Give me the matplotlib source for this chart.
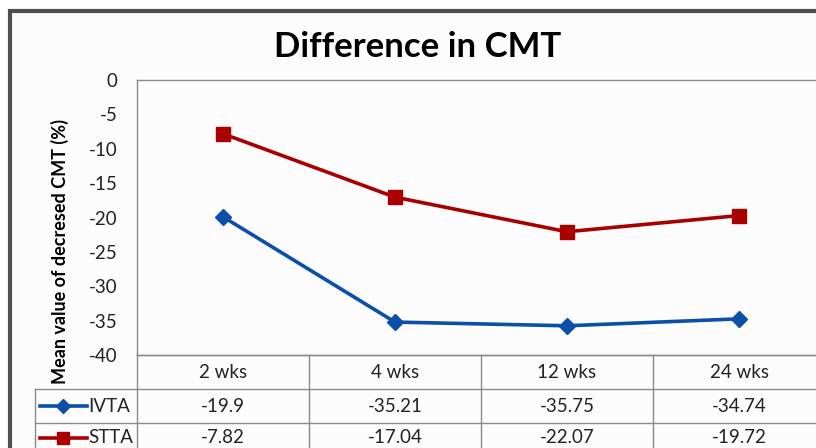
import matplotlib
matplotlib.use("Agg")
import matplotlib.pyplot as plt
import matplotlib.transforms as mtransforms
from matplotlib.patches import Rectangle
from matplotlib.lines import Line2D

# Daten
weeks = ['2 wks', '4 wks', '12 wks', '24 wks']
ivta = [-19.9, -35.21, -35.75, -34.74]
stta = [-7.82, -17.04, -22.07, -19.72]
series_names = ['IVTA', 'STTA']
y_ticks = [0, -5, -10, -15, -20, -25, -30, -35, -40]

blue = '#0b4fa8'
red = '#a80000'
grid_col = '#8a8a8a'
txt_col = '#222222'
fs = 13.5

plt.rcParams['font.family'] = ['Lato', 'DejaVu Sans']

W, H = 816, 448
fig = plt.figure(figsize=(W / 100, H / 100), dpi=100)
fig.patch.set_facecolor('white')

def fx(px):
    return px / W

def fy(py):
    return 1 - py / H

# Rahmen des Diagramms
fig.patches.append(Rectangle((fx(10), fy(H + 20)), fx(W + 20), fy(11) - fy(H + 20),
                             transform=fig.transFigure, facecolor='#fcfcfc',
                             edgecolor='#4f4f4f', linewidth=3, zorder=-5))

# Zeichenfläche
left, right, top, bottom = 137, 825, 80, 355
ax = fig.add_axes([fx(left), fy(bottom), fx(right - left), fy(top) - fy(bottom)])
ax.set_facecolor('none')
ax.set_zorder(2)
x = range(len(weeks))
ax.plot(x, ivta, color=blue, lw=2.6, marker='D', ms=8, label=series_names[0])
ax.plot(x, stta, color=red, lw=2.6, marker='s', ms=10, label=series_names[1])
ax.set_xlim(-0.5, len(weeks) - 0.5)
ax.set_ylim(-40, 0)
ax.set_yticks(y_ticks)
ax.set_yticklabels([str(t) for t in y_ticks])
ax.set_xticks([])
ax.tick_params(axis='y', length=0, pad=14, labelsize=fs, labelcolor=txt_col)
for s in ax.spines.values():
    s.set_color(grid_col)
    s.set_linewidth(1)
ax.spines['right'].set_visible(False)

fig.text(fx(418), fy(47), 'Difference in CMT', ha='center', va='center',
         fontsize=25, fontweight='bold')
fig.text(fx(60), fy(252), 'Mean value of decresed CMT (%)', rotation=90,
         ha='center', va='center', fontsize=13, fontweight='bold')

# Datentabelle
tr = mtransforms.blended_transform_factory(ax.transData, fig.transFigure)
row_y = [355, 389, 423, 460]

def hline(x0, x1, y):
    fig.add_artist(Line2D([fx(x0), fx(x1)], [fy(y), fy(y)], color=grid_col, lw=1,
                          transform=fig.transFigure))

def vline(xp, y0, y1):
    fig.add_artist(Line2D([fx(xp), fx(xp)], [fy(y0), fy(y1)], color=grid_col, lw=1,
                          transform=fig.transFigure))

hline(137, W, row_y[0])
hline(35, W, row_y[1])
hline(35, W, row_y[2])
vline(137, row_y[0], H)
vline(35, row_y[1], H)
for i in range(1, len(weeks)):
    fig.add_artist(Line2D([i - 0.5, i - 0.5], [fy(row_y[0]), fy(H)], color=grid_col,
                          lw=1, transform=tr))

for i, w in enumerate(weeks):
    fig.text(i, fy((row_y[0] + row_y[1]) / 2), w, transform=tr, ha='center',
             va='center', fontsize=fs, color=txt_col)
    fig.text(i, fy((row_y[1] + row_y[2]) / 2), f'{ivta[i]:g}', transform=tr,
             ha='center', va='center', fontsize=fs, color=txt_col)
    fig.text(i, fy((row_y[2] + 452) / 2), f'{stta[i]:g}', transform=tr,
             ha='center', va='center', fontsize=fs, color=txt_col)

# Legendensymbole in der Tabelle
for name, col, mk, ms, yc in [(series_names[0], blue, 'D', 7, (row_y[1] + row_y[2]) / 2),
                              (series_names[1], red, 's', 9, (row_y[2] + 452) / 2)]:
    fig.add_artist(Line2D([fx(40), fx(87)], [fy(yc), fy(yc)], color=col, lw=2.6,
                          transform=fig.transFigure))
    fig.add_artist(Line2D([fx(63)], [fy(yc)], color=col, marker=mk, ms=ms,
                          transform=fig.transFigure))
    fig.text(fx(88), fy(yc), name, ha='left', va='center', fontsize=fs, color=txt_col)

fig.savefig('out.png', dpi=100)
